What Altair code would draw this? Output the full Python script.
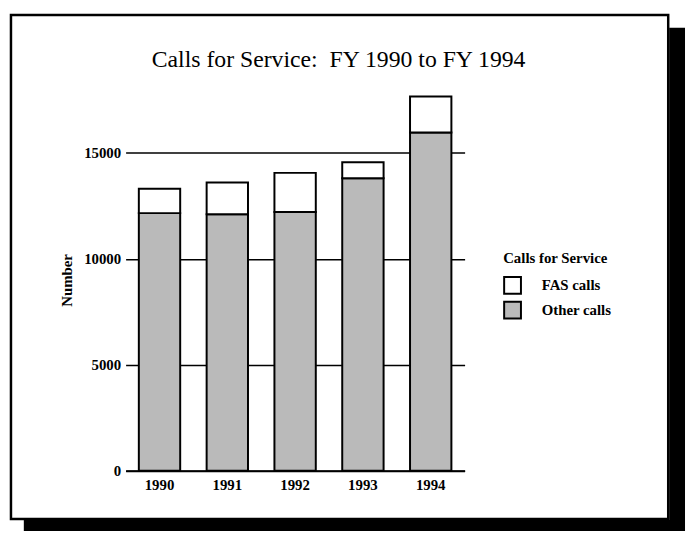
import altair as alt
import pandas as pd

# ---- data ----
years = ["1990", "1991", "1992", "1993", "1994"]
other_calls = [12150, 12100, 12200, 13800, 15950]
fas_calls = [1150, 1500, 1850, 750, 1700]
series = ["FAS calls", "Other calls"]
series_colors = ["#ffffff", "#bababa"]
y_ticks = [0, 5000, 10000, 15000]

rows = []
for i, yr in enumerate(years):
    rows.append({"year": yr, "series": "Other calls", "value": other_calls[i], "ord": 0})
    rows.append({"year": yr, "series": "FAS calls", "value": fas_calls[i], "ord": 1})
df = pd.DataFrame(rows)

FONT = "Liberation Serif"
W, H = 343, 386

one = pd.DataFrame({"d": [0]})

# decorative page frame with drop shadow (pixel positions relative to plot area)
frame = alt.Chart(one).mark_rect(
    fill="white", fillOpacity=0, stroke="black", strokeWidth=2.5
).encode(x=alt.value(-116), x2=alt.value(549), y=alt.value(-75), y2=alt.value(435))

shadow_right = alt.Chart(one).mark_rect(fill="black").encode(
    x=alt.value(550), x2=alt.value(566), y=alt.value(-62), y2=alt.value(447)
)
shadow_bottom = alt.Chart(one).mark_rect(fill="black").encode(
    x=alt.value(-103), x2=alt.value(566), y=alt.value(436), y2=alt.value(447)
)

bars = alt.Chart(df).mark_bar(stroke="black", strokeWidth=2).encode(
    x=alt.X(
        "year:N",
        sort=years,
        title=None,
        scale=alt.Scale(paddingInner=0.39, paddingOuter=0.195),
        axis=alt.Axis(
            labelAngle=0,
            ticks=False,
            domain=True,
            domainColor="black",
            domainWidth=2,
            labelPadding=7,
            labelFont=FONT,
            labelFontSize=15,
            labelFontWeight="bold",
            labelColor="black",
            grid=False,
        ),
    ),
    y=alt.Y(
        "value:Q",
        stack="zero",
        title="Number",
        scale=alt.Scale(domain=[0, 18000], nice=False),
        axis=alt.Axis(
            values=y_ticks,
            format="d",
            grid=True,
            gridColor="black",
            gridWidth=1.5,
            gridOpacity=1,
            ticks=False,
            domain=False,
            labelPadding=5,
            labelFont=FONT,
            labelFontSize=15,
            labelFontWeight="bold",
            labelColor="black",
            titleFont=FONT,
            titleFontSize=15,
            titleFontWeight="bold",
            titleColor="black",
            titlePadding=9,
        ),
    ),
    color=alt.Color(
        "series:N",
        scale=alt.Scale(domain=series, range=series_colors),
        legend=alt.Legend(
            title="Calls for Service",
            orient="none",
            legendX=382,
            legendY=164,
            symbolType="square",
            symbolSize=289,
            symbolStrokeColor="black",
            symbolStrokeWidth=2,
            symbolOpacity=1,
            labelOffset=20,
            rowPadding=0,
            titlePadding=10,
            titleFont=FONT,
            titleFontSize=15,
            titleFontWeight="bold",
            titleColor="black",
            labelFont=FONT,
            labelFontSize=15,
            labelFontWeight="bold",
            labelColor="black",
        ),
    ),
    order=alt.Order("ord:Q"),
)

chart = alt.layer(shadow_right, shadow_bottom, frame, bars).properties(
    width=W,
    height=H,
    background="white",
    title=alt.TitleParams(
        "Calls for Service:\u00a0 FY 1990 to FY 1994",
        font=FONT,
        fontSize=24,
        fontWeight="normal",
        color="black",
        anchor="middle",
        frame="group",
        baseline="alphabetic",
        dx=44,
        dy=78,
        offset=0,
    ),
    padding={"left": 119, "top": 79, "right": 224, "bottom": 61},
    autosize=alt.AutoSizeParams(type="none"),
).configure_view(stroke="transparent", strokeWidth=0)

chart.save("out.html", embed_options={"renderer": "svg", "actions": False})
